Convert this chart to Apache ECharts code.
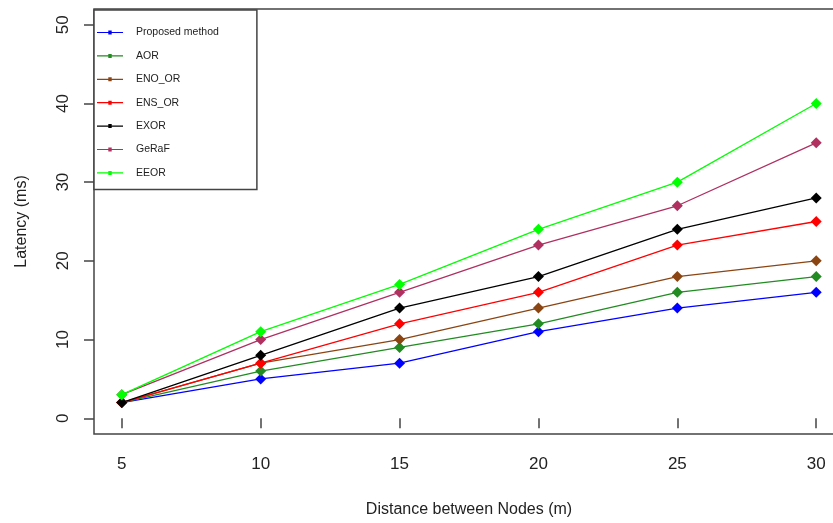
<!DOCTYPE html>
<html>
<head>
<meta charset="UTF-8">
<title>Latency vs distance</title>
<script src="https://cdn.jsdelivr.net/npm/echarts@6/dist/echarts.min.js"></script>
<style>
  html, body { margin: 0; padding: 0; background: #fff; }
  #main { width: 833px; height: 523px; }
</style>
</head>
<body>
<div id="main"></div>
<script>
// data
var distances = [5, 10, 15, 20, 25, 30];
var seriesNames = ['Proposed method', 'AOR', 'ENO_OR', 'ENS_OR', 'EXOR', 'GeRaF', 'EEOR'];
var proposed = [2, 5, 7, 11, 14, 16];
var aor = [2, 6, 9, 12, 16, 18];
var enoOr = [2, 7, 10, 14, 18, 20];
var ensOr = [2, 7, 12, 16, 22, 25];
var exor = [2, 8, 14, 18, 24, 28];
var geraf = [3, 10, 16, 22, 27, 35];
var eeor = [3, 11, 17, 24, 30, 40];
var xTicks = [5, 10, 15, 20, 25, 30];
var yTicks = [0, 10, 20, 30, 40, 50];

var colors = ['#0000ff', '#228b22', '#8b4513', '#ff0000', '#000000', '#b03060', '#00ff00'];
var values = [proposed, aor, enoOr, ensOr, exor, geraf, eeor];

var font = 'Liberation Sans, Arial, sans-serif';
// legend key: short line with a small dot in the middle
var legendIcon = 'path://M0,4.4 L26,4.4 L26,5.6 L0,5.6 Z M11.3,3 L14.7,3 L14.7,7 L11.3,7 Z';

var series = [];
for (var i = 0; i < seriesNames.length; i++) {
    var pts = [];
    for (var j = 0; j < distances.length; j++) pts.push([distances[j], values[i][j]]);
    series.push({
        name: seriesNames[i],
        type: 'line',
        data: pts,
        symbol: 'diamond',
        symbolSize: 11,
        color: colors[i],
        lineStyle: { width: 1.3, color: colors[i] },
        itemStyle: { color: colors[i] },
        emphasis: { disabled: true }
    });
}

var myChart = echarts.init(document.getElementById('main'));
myChart.setOption({
    animation: false,
    backgroundColor: '#fff',
    grid: {
        left: 94, top: 9, right: -11, bottom: 89,
        outerBoundsMode: 'none',
        containLabel: false,
        show: true, borderColor: '#444', borderWidth: 1.5, backgroundColor: 'transparent'
    },
    legend: {
        orient: 'vertical',
        left: 94, top: 10,
        padding: [17, 38, 11, 3],
        itemWidth: 26, itemHeight: 10, itemGap: 12.4,
        borderColor: '#444', borderWidth: 1.5,
        backgroundColor: '#fff',
        icon: legendIcon,
        textStyle: { fontFamily: font, fontSize: 10.5, color: '#222', padding: [0, 0, 0, 8] },
        data: seriesNames
    },
    xAxis: {
        type: 'value',
        min: 4, max: 31,
        name: 'Distance between Nodes (m)',
        nameLocation: 'middle',
        nameGap: 68,
        nameTextStyle: { fontFamily: font, fontSize: 16, color: '#222' },
        axisLine: { show: false },
        splitLine: { show: false },
        axisTick: { show: true, length: 10, customValues: xTicks, lineStyle: { color: '#444', width: 1.5 } },
        axisLabel: { customValues: xTicks, margin: 22, fontFamily: font, fontSize: 17, color: '#222' }
    },
    yAxis: {
        type: 'value',
        min: -2, max: 52,
        name: 'Latency (ms)',
        nameLocation: 'middle',
        nameGap: 64,
        nameRotate: 90,
        nameTextStyle: { fontFamily: font, fontSize: 16, color: '#222' },
        axisLine: { show: false },
        splitLine: { show: false },
        axisTick: { show: true, length: 10, customValues: yTicks, lineStyle: { color: '#444', width: 1.5 } },
        axisLabel: { customValues: yTicks, rotate: 90, margin: 22, fontFamily: font, fontSize: 17, color: '#222' }
    },
    series: series
});
</script>
</body>
</html>
